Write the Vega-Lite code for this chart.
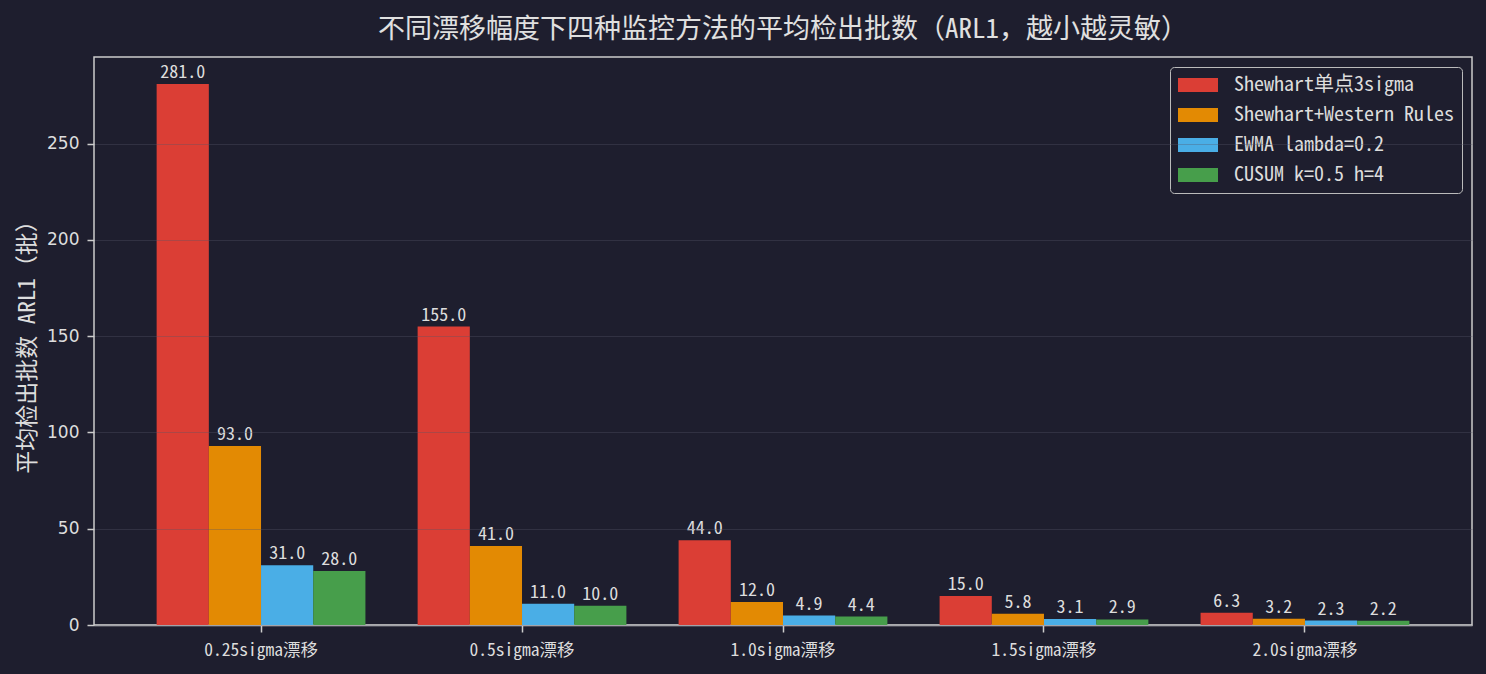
{
  "$schema": "https://vega.github.io/schema/vega-lite/v6.json",
  "width": 1378,
  "height": 568,
  "autosize": {"type": "none"},
  "padding": {"left": 94, "top": 57, "right": 14, "bottom": 49},
  "background": "#1e1e2e",
  "title": {
    "text": "不同漂移幅度下四种监控方法的平均检出批数（ARL1，越小越灵敏）",
    "font": "Noto Sans Mono CJK SC, Noto Sans CJK SC",
    "fontSize": 27,
    "fontWeight": "normal",
    "color": "#e0e0e0",
    "anchor": "middle",
    "offset": 13
  },
  "config": {
    "view": {"stroke": "#cccccc", "strokeWidth": 1.5, "fill": "#1e1e2e"},
    "font": "Noto Sans Mono CJK SC, Noto Sans CJK SC"
  },
  "data": {
    "values": [
      {"drift": "0.25sigma漂移", "method": "Shewhart单点3sigma", "arl": 281.0},
      {"drift": "0.25sigma漂移", "method": "Shewhart+Western Rules", "arl": 93.0},
      {"drift": "0.25sigma漂移", "method": "EWMA lambda=0.2", "arl": 31.0},
      {"drift": "0.25sigma漂移", "method": "CUSUM k=0.5 h=4", "arl": 28.0},
      {"drift": "0.5sigma漂移", "method": "Shewhart单点3sigma", "arl": 155.0},
      {"drift": "0.5sigma漂移", "method": "Shewhart+Western Rules", "arl": 41.0},
      {"drift": "0.5sigma漂移", "method": "EWMA lambda=0.2", "arl": 11.0},
      {"drift": "0.5sigma漂移", "method": "CUSUM k=0.5 h=4", "arl": 10.0},
      {"drift": "1.0sigma漂移", "method": "Shewhart单点3sigma", "arl": 44.0},
      {"drift": "1.0sigma漂移", "method": "Shewhart+Western Rules", "arl": 12.0},
      {"drift": "1.0sigma漂移", "method": "EWMA lambda=0.2", "arl": 4.9},
      {"drift": "1.0sigma漂移", "method": "CUSUM k=0.5 h=4", "arl": 4.4},
      {"drift": "1.5sigma漂移", "method": "Shewhart单点3sigma", "arl": 15.0},
      {"drift": "1.5sigma漂移", "method": "Shewhart+Western Rules", "arl": 5.8},
      {"drift": "1.5sigma漂移", "method": "EWMA lambda=0.2", "arl": 3.1},
      {"drift": "1.5sigma漂移", "method": "CUSUM k=0.5 h=4", "arl": 2.9},
      {"drift": "2.0sigma漂移", "method": "Shewhart单点3sigma", "arl": 6.3},
      {"drift": "2.0sigma漂移", "method": "Shewhart+Western Rules", "arl": 3.2},
      {"drift": "2.0sigma漂移", "method": "EWMA lambda=0.2", "arl": 2.3},
      {"drift": "2.0sigma漂移", "method": "CUSUM k=0.5 h=4", "arl": 2.2}
    ]
  },
  "encoding": {
    "x": {
      "field": "drift",
      "type": "nominal",
      "sort": null,
      "scale": {"paddingInner": 0.2, "paddingOuter": 0.24},
      "axis": {
        "title": null,
        "labelAngle": 0,
        "labelFontSize": 17.5,
        "labelColor": "#dddddd",
        "labelPadding": 9,
        "tickColor": "#cccccc",
        "tickSize": 7,
        "tickWidth": 1.5,
        "domainColor": "#cccccc",
        "domainWidth": 1.5
      }
    },
    "xOffset": {
      "field": "method",
      "type": "nominal",
      "sort": null,
      "scale": {"paddingInner": 0, "paddingOuter": 0}
    },
    "y": {
      "field": "arl",
      "type": "quantitative",
      "scale": {"domain": [0, 295], "nice": false},
      "axis": {
        "title": "平均检出批数 ARL1（批）",
        "titleFont": "Noto Sans Mono CJK SC, Noto Sans CJK SC",
        "titleFontSize": 23,
        "titleFontWeight": "normal",
        "titleColor": "#dddddd",
        "titlePadding": 7,
        "values": [0, 50, 100, 150, 200, 250],
        "labelFont": "DejaVu Sans",
        "labelFontSize": 17,
        "labelColor": "#dddddd",
        "labelPadding": 8,
        "tickColor": "#cccccc",
        "tickSize": 7,
        "tickWidth": 1.5,
        "domain": false,
        "gridColor": "#555566",
        "gridOpacity": 0.35,
        "gridWidth": 1,
        "zindex": 1
      }
    }
  },
  "layer": [
    {
      "mark": {"type": "bar"},
      "encoding": {
        "color": {
          "field": "method",
          "type": "nominal",
          "sort": null,
          "scale": {
            "domain": ["Shewhart单点3sigma", "Shewhart+Western Rules", "EWMA lambda=0.2", "CUSUM k=0.5 h=4"],
            "range": ["#db3e35", "#e38a03", "#4aaee6", "#479e4b"]
          },
          "legend": {
            "title": null,
            "orient": "top-right",
            "offset": 10,
            "padding": 8,
            "fillColor": "#1e1e2e",
            "strokeColor": "#bbbbbb",
            "cornerRadius": 4,
            "symbolType": "M-2,-0.7L2,-0.7L2,0.7L-2,0.7Z",
            "symbolSize": 400,
            "symbolOffset": 10,
            "symbolStrokeWidth": 0,
            "labelFontSize": 20,
            "labelColor": "#dddddd",
            "labelOffset": 26,
            "rowPadding": 10,
            "labelLimit": 400
          }
        }
      }
    },
    {
      "mark": {"type": "text", "baseline": "bottom", "dy": -2, "fontSize": 18, "color": "#dddddd"},
      "encoding": {
        "text": {"field": "arl", "type": "quantitative", "format": ".1f"}
      }
    }
  ]
}
